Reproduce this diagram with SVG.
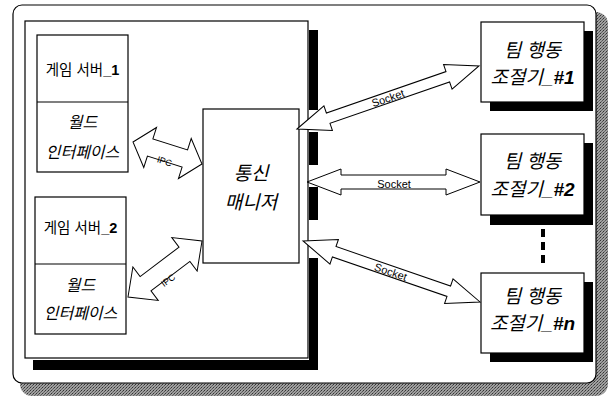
<svg xmlns="http://www.w3.org/2000/svg" width="611" height="399" viewBox="0 0 611 399">
<style>
.box{fill:#fff;stroke:#000;stroke-width:1.2}
.shadow{fill:#000}
.arrow{fill:#fff;stroke:#000;stroke-width:1}
.t{font-family:"Liberation Sans","Noto Sans CJK KR",sans-serif;fill:#000;text-anchor:middle}
.it{font-style:italic}
.b{font-weight:bold}
.lbl{font-family:"Liberation Sans",sans-serif;fill:#000;text-anchor:middle}
</style>
<defs>
<pattern id="dither" width="3" height="3" patternUnits="userSpaceOnUse">
<rect width="3" height="3" fill="#a0a0a0"/>
<rect width="1" height="1" fill="#333"/>
<rect x="2" y="1" width="1" height="1" fill="#555"/>
<rect x="1" y="2" width="1" height="1" fill="#666"/>
</pattern>
</defs>
<rect width="611" height="399" fill="#fff"/>
<g id="frame">
<rect x="20" y="12" width="588" height="384" rx="12" fill="url(#dither)"/>
<rect x="13" y="5" width="583" height="378" rx="9" fill="#fff" stroke="#000" stroke-width="1.2"/>
</g>
<g id="host">
<rect class="shadow" x="33" y="360" width="285" height="10"/>
<rect class="shadow" x="309" y="30" width="9" height="80"/>
<rect class="shadow" x="309" y="132" width="9" height="33"/>
<rect class="shadow" x="309" y="187" width="9" height="33"/>
<rect class="shadow" x="309" y="258" width="9" height="112"/>
<rect class="box" x="25" y="21" width="283" height="337"/>
</g>
<g id="server1">
<rect class="box" x="37" y="35" width="91" height="137"/>
<line x1="37" y1="102" x2="128" y2="102" stroke="#000" stroke-width="1.2"/>
<text class="t" x="82.5" y="75" font-size="14.5">게임 서버<tspan class="b">_1</tspan></text>
<text class="t it" x="82.5" y="128" font-size="16">월드</text>
<text class="t it" x="82.5" y="158" font-size="16">인터페이스</text>
</g>
<g id="server2">
<rect class="box" x="35" y="197" width="91" height="137"/>
<line x1="35" y1="264" x2="126" y2="264" stroke="#000" stroke-width="1.2"/>
<text class="t" x="80.5" y="233" font-size="14.5">게임 서버<tspan class="b">_2</tspan></text>
<text class="t it" x="80.5" y="291" font-size="16">월드</text>
<text class="t it" x="80.5" y="319" font-size="16">인터페이스</text>
</g>
<g id="comm-manager">
<rect class="box" x="203" y="109" width="96" height="154"/>
<text class="t it" x="251" y="180" font-size="19">통신</text>
<text class="t it" x="251" y="209" font-size="19">매니저</text>
</g>
<g id="team1">
<rect class="shadow" x="490" y="31" width="103" height="80"/>
<rect class="box" x="481" y="22" width="103" height="80"/>
<text class="t it" x="532.5" y="57" font-size="19">팀 행동</text>
<text class="t it" x="532.5" y="84" font-size="19">조절기_<tspan class="b">#1</tspan></text>
</g>
<g id="team2">
<rect class="shadow" x="490" y="143" width="103" height="82"/>
<rect class="box" x="481" y="134" width="103" height="81"/>
<text class="t it" x="532.5" y="168" font-size="19">팀 행동</text>
<text class="t it" x="532.5" y="196" font-size="19">조절기_<tspan class="b">#2</tspan></text>
</g>
<g id="teamn">
<rect class="shadow" x="490" y="282" width="103" height="80"/>
<rect class="box" x="481" y="273" width="103" height="80"/>
<text class="t it" x="532.5" y="303" font-size="19">팀 행동</text>
<text class="t it" x="532.5" y="330" font-size="19">조절기_<tspan class="b">#n</tspan></text>
</g>
<g id="ellipsis">
<line x1="543" y1="229" x2="543" y2="266" stroke="#000" stroke-width="4" stroke-dasharray="8 5"/>
</g>
<g id="connectors">
<g transform="translate(133,142) rotate(17.7)">
<polygon class="arrow" points="0,0 18,-21 18,-9 54.4,-9 54.4,-21 72.4,0 54.4,21 54.4,9 18,9 18,21"/>
<text class="lbl" x="36" y="12" font-size="9">IPC</text>
</g>
<g transform="translate(128,297) rotate(-37.1)">
<polygon class="arrow" points="0,0 22,-21 22,-9 70.8,-9 70.8,-21 92.8,0 70.8,21 70.8,9 22,9 22,21"/>
<text class="lbl" x="42" y="14" font-size="9">IPC</text>
</g>
<g transform="translate(297,129) rotate(-19.1)">
<polygon class="arrow" points="0,0 33,-13 33,-5.5 159.6,-5.5 159.6,-13 192.6,0 159.6,13 159.6,5.5 33,5.5 33,13"/>
<text class="lbl" x="96" y="4.5" font-size="11">Socket</text>
</g>
<g transform="translate(307,182)">
<polygon class="arrow" points="0,0 34,-13 34,-7 139,-7 139,-13 173,0 139,13 139,7 34,7 34,13"/>
<text class="lbl" x="87" y="6" font-size="11">Socket</text>
</g>
<g transform="translate(303,241) rotate(19)">
<polygon class="arrow" points="0,0 33,-13 33,-5.5 154.2,-5.5 154.2,-13 187.2,0 154.2,13 154.2,5.5 33,5.5 33,13"/>
<text class="lbl" x="93" y="4.5" font-size="11">Socket</text>
</g>
</g>
</svg>
